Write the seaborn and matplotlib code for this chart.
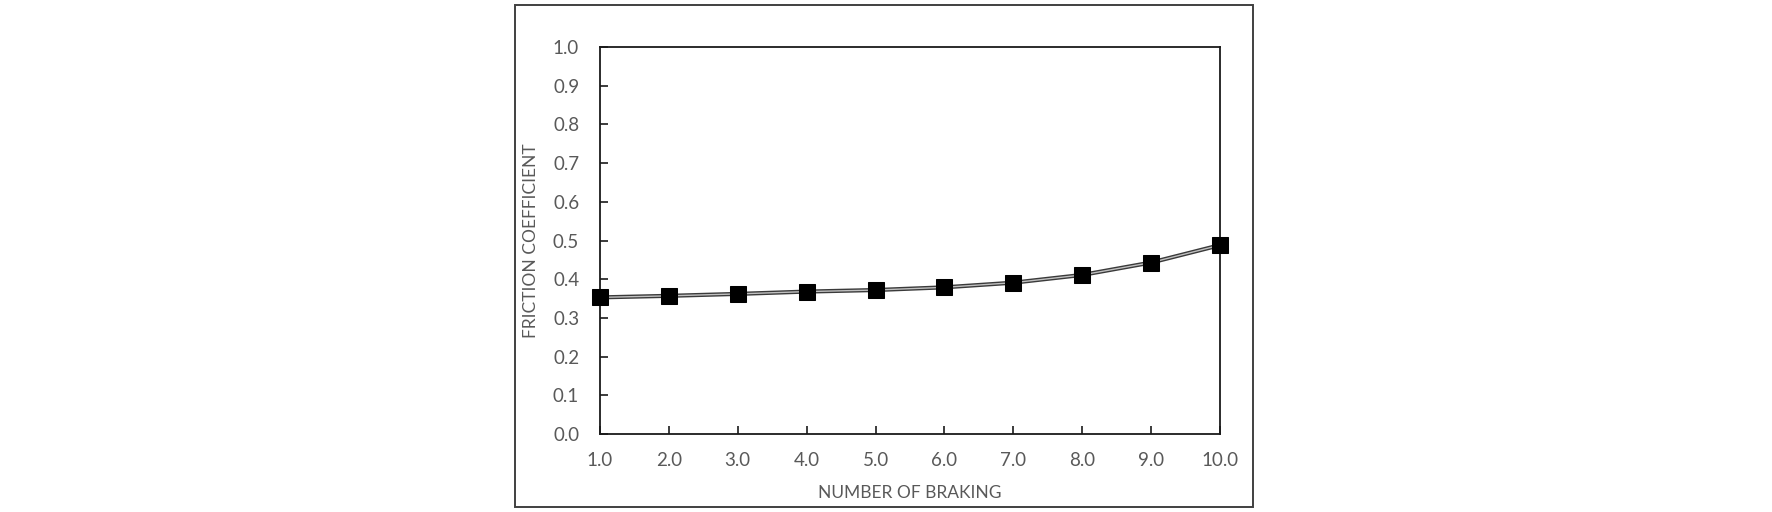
import matplotlib
matplotlib.use("Agg")
import matplotlib.pyplot as plt
import seaborn as sns
import pandas as pd
from matplotlib.patches import Rectangle

braking = [1, 2, 3, 4, 5, 6, 7, 8, 9, 10]
friction = [0.353, 0.357, 0.362, 0.368, 0.372, 0.379, 0.391, 0.411, 0.443, 0.488]
x_ticks = [1, 2, 3, 4, 5, 6, 7, 8, 9, 10]
y_ticks = [0.0, 0.1, 0.2, 0.3, 0.4, 0.5, 0.6, 0.7, 0.8, 0.9, 1.0]

sns.set_theme(style="white")
plt.rcParams['font.family'] = ['Lato', 'DejaVu Sans']

df = pd.DataFrame({"braking": braking, "friction": friction})

W, H = 1772, 512
fig = plt.figure(figsize=(W / 100, H / 100), dpi=100)
ax = fig.add_axes([600 / W, 1 - 434 / H, 620 / W, 387 / H])

# outer chart frame
fig.patches.append(Rectangle((515 / W, 1 - 507 / H), 738 / W, 502 / H,
                             transform=fig.transFigure, fill=False,
                             edgecolor='#404040', linewidth=1.4))

sns.lineplot(data=df, x="braking", y="friction", ax=ax, color='#3a3a3a',
             linewidth=3.0, zorder=3)
sns.lineplot(data=df, x="braking", y="friction", ax=ax, color='#c0c0c0',
             linewidth=1.0, zorder=4)
sns.lineplot(data=df, x="braking", y="friction", ax=ax, color='black',
             linewidth=0, marker='s', markersize=11, markeredgecolor='black',
             zorder=5, clip_on=False)

ax.set_xlim(1, 10)
ax.set_ylim(0, 1.0)
ax.set_xticks(x_ticks)
ax.set_xticklabels([f"{v:.1f}" for v in x_ticks])
ax.set_yticks(y_ticks)
ax.set_yticklabels([f"{v:.1f}" for v in y_ticks])

for s in ax.spines.values():
    s.set_color('#1a1a1a')
    s.set_linewidth(1.3)

ax.tick_params(axis='both', direction='in', length=6, width=1.2,
               color='#1a1a1a', labelsize=13.5, labelcolor='#595959')
ax.tick_params(axis='x', pad=13, bottom=True)
ax.tick_params(axis='y', pad=15, left=True)

ax.set_xlabel("NUMBER OF BRAKING", fontsize=12.5, color='#595959')
ax.set_ylabel("FRICTION COEFFICIENT", fontsize=12.5, color='#595959')
ax.xaxis.set_label_coords(0.5, (434 - 493) / 387)
ax.xaxis.label.set_va('center')
ax.yaxis.set_label_coords((531 - 600) / 620, 0.5)
ax.yaxis.label.set_va('center')

fig.savefig("out.png", dpi=100, facecolor='white')
